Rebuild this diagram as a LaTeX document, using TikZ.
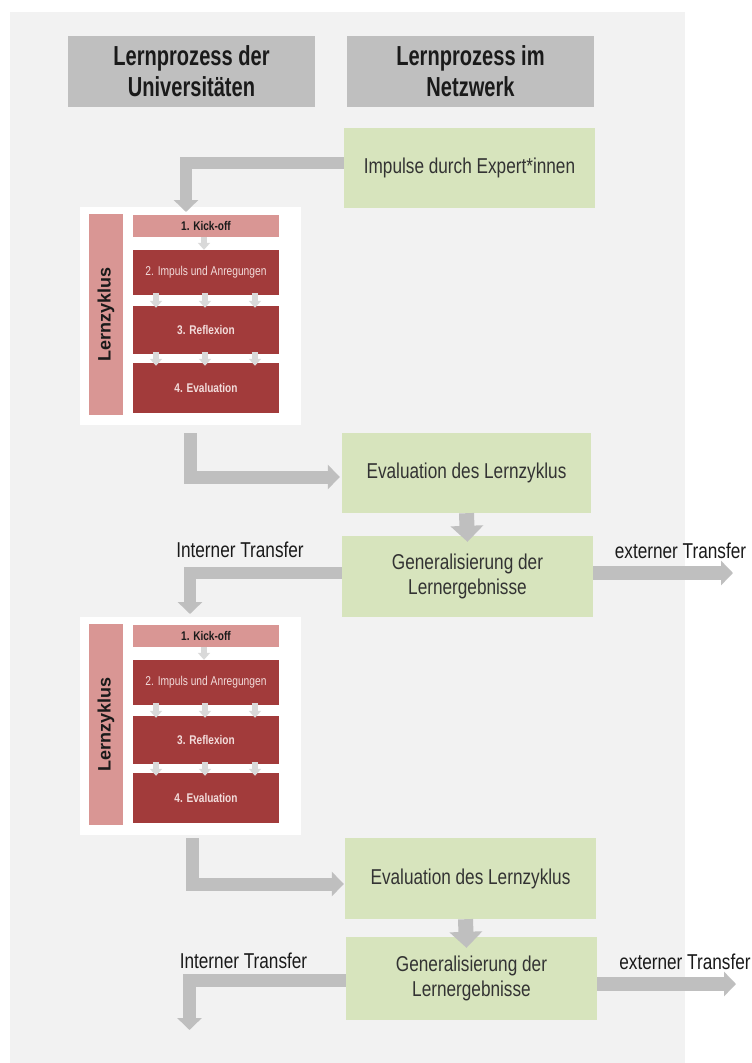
\documentclass[tikz,border=0pt]{standalone}
\usepackage{fontspec}
\setmainfont{Liberation Sans}[FakeStretch=0.8]
\newfontfamily\plainsans{Liberation Sans}
\newfontfamily\hdrfont{Liberation Sans}[FakeStretch=0.73]
\usetikzlibrary{arrows.meta}
\definecolor{bggray}{HTML}{F2F2F2}
\definecolor{hdrgray}{HTML}{BFBFBF}
\definecolor{grn}{HTML}{D7E4BD}
\definecolor{arrgray}{HTML}{BFBFBF}
\definecolor{smallgray}{HTML}{D9D9D9}
\definecolor{pinkred}{HTML}{D99694}
\definecolor{darkred}{HTML}{A23B3B}
\definecolor{lighttxt}{HTML}{F2DCDB}
\definecolor{txtdark}{HTML}{1A1A1A}
\definecolor{txtgreen}{HTML}{333333}
\tikzset{
  box/.style={rectangle, inner sep=0pt, align=center, anchor=center},
  hdr/.style={box, fill=hdrgray, minimum width=247pt, minimum height=71pt,
    font=\hdrfont\bfseries\fontsize{27.5}{31}\selectfont, text=txtdark},
  greenbox/.style={box, fill=grn, minimum width=251pt, minimum height=80pt,
    font=\fontsize{21.5}{25}\selectfont, text=txtgreen},
  panel/.style={box, fill=white, minimum width=221pt, minimum height=218pt},
  barbox/.style={box, fill=pinkred, rotate=90, minimum width=201pt, minimum height=34pt,
    font=\plainsans\bfseries\fontsize{18}{20}\selectfont, text=txtdark},
  kickbox/.style={box, fill=pinkred, minimum width=146pt, minimum height=22pt,
    font=\bfseries\fontsize{12.6}{14}\selectfont, text=txtdark},
  stepbox/.style={box, fill=darkred, minimum width=146pt, text=lighttxt},
  lbl/.style={box, font=\fontsize{21.5}{25}\selectfont, text=txtdark},
  bigarr/.style={draw=arrgray, line width=13pt, line join=miter, line cap=butt,
    -{Triangle[width=24pt,length=12pt]}},
  vertarr/.style={draw=arrgray, line width=15pt, line cap=butt,
    -{Triangle[width=32pt,length=16pt]}},
  smallarr/.style={draw=smallgray, line width=6pt, line cap=butt,
    -{Triangle[width=12pt,length=7pt]}},
}
\begin{document}
\begin{tikzpicture}[x=1pt,y=-1pt]
\useasboundingbox (0,0) rectangle (752,1063);
\fill[white] (0,0) rectangle (752,1063);
\fill[bggray] (10,12) rectangle (685,1063);

% headers
\node[hdr] (h1) at (191.5,71.5) {Lernprozess der\\Universitäten};
\node[hdr] (h2) at (470.5,71.5) {Lernprozess im\\Netzwerk};

% green boxes
\node[greenbox] (imp) at (469.5,168) {Impulse durch Expert*innen};
\node[greenbox, minimum width=249pt] (ev1) at (466.5,473) {Evaluation des Lernzyklus};
\node[greenbox, minimum height=81pt] (gen1) at (467.5,576.5) {Generalisierung der\\Lernergebnisse};
\node[greenbox, minimum height=81pt] (ev2) at (470.5,878.5) {Evaluation des Lernzyklus};
\node[greenbox, minimum height=83pt] (gen2) at (471.5,978.5) {Generalisierung der\\Lernergebnisse};

% Lernzyklus panels
\foreach \i/\dy in {1/0,2/410}{
  \node[panel] (p\i) at (190.5,316+\dy) {};
  \node[barbox] (bar\i) at (106,314.5+\dy) {Lernzyklus};
  \node[kickbox] (kick\i) at (206,226+\dy) {1. Kick-off};
  \node[stepbox, minimum height=45pt, font=\fontsize{12.8}{14}\selectfont] (bb\i) at (206,272.5+\dy) {2. Impuls und Anregungen};
  \node[stepbox, minimum height=48pt, font=\bfseries\fontsize{12.6}{14}\selectfont] (bc\i) at (206,330+\dy) {3. Reflexion};
  \node[stepbox, minimum height=50pt, font=\bfseries\fontsize{12.6}{14}\selectfont] (bd\i) at (206,388+\dy) {4. Evaluation};
  \draw[smallarr] ([xshift=-2pt]kick\i.south) -- ([xshift=-2pt]bb\i.north);
  \foreach \dx in {-50,-1,49}{
    \draw[smallarr] ([xshift=\dx pt,yshift=2pt]bb\i.south) -- ([xshift=\dx pt,yshift=-2pt]bc\i.north);
    \draw[smallarr] ([xshift=\dx pt,yshift=2pt]bc\i.south) -- ([xshift=\dx pt,yshift=-3pt]bd\i.north);
  }
}

% labels
\node[lbl] (it1) at (240,550) {Interner Transfer};
\node[lbl] (et1) at (680.5,551) {externer Transfer};
\node[lbl] (it2) at (243.5,961) {Interner Transfer};
\node[lbl] (et2) at (685,962) {externer Transfer};

% big arrows
\coordinate (t1) at (186,212);
\coordinate (s1) at (190,433);
\coordinate (t2) at (190,614);
\coordinate (e1) at (733,0);
\coordinate (s2) at (192.5,838);
\coordinate (t3) at (189.5,1030);
\coordinate (e2) at (736,0);

\draw[bigarr, line width=12pt] ([yshift=5pt]imp.west) -| (t1);
\draw[bigarr] (s1) |- ([xshift=-2pt,yshift=-4pt]ev1.west);
\draw[vertarr] (ev1.south) -- ([yshift=-6pt]gen1.north);
\draw[bigarr, line width=12pt] ([yshift=4pt]gen1.west) -| (t2);
\draw[bigarr, line width=14pt] ([yshift=3.5pt]gen1.east) -- ([yshift=3.5pt]gen1.east -| e1);

\draw[bigarr] (s2) |- ([xshift=-1pt,yshift=-5.5pt]ev2.west);
\draw[vertarr] ([xshift=-5pt]ev2.south) -- ([xshift=-5pt,yshift=-11pt]gen2.north);
\draw[bigarr] ([yshift=-2pt]gen2.west) -| (t3);
\draw[bigarr, line width=14pt] ([yshift=-5.5pt]gen2.east) -- ([yshift=-5.5pt]gen2.east -| e2);
\end{tikzpicture}
\end{document}
